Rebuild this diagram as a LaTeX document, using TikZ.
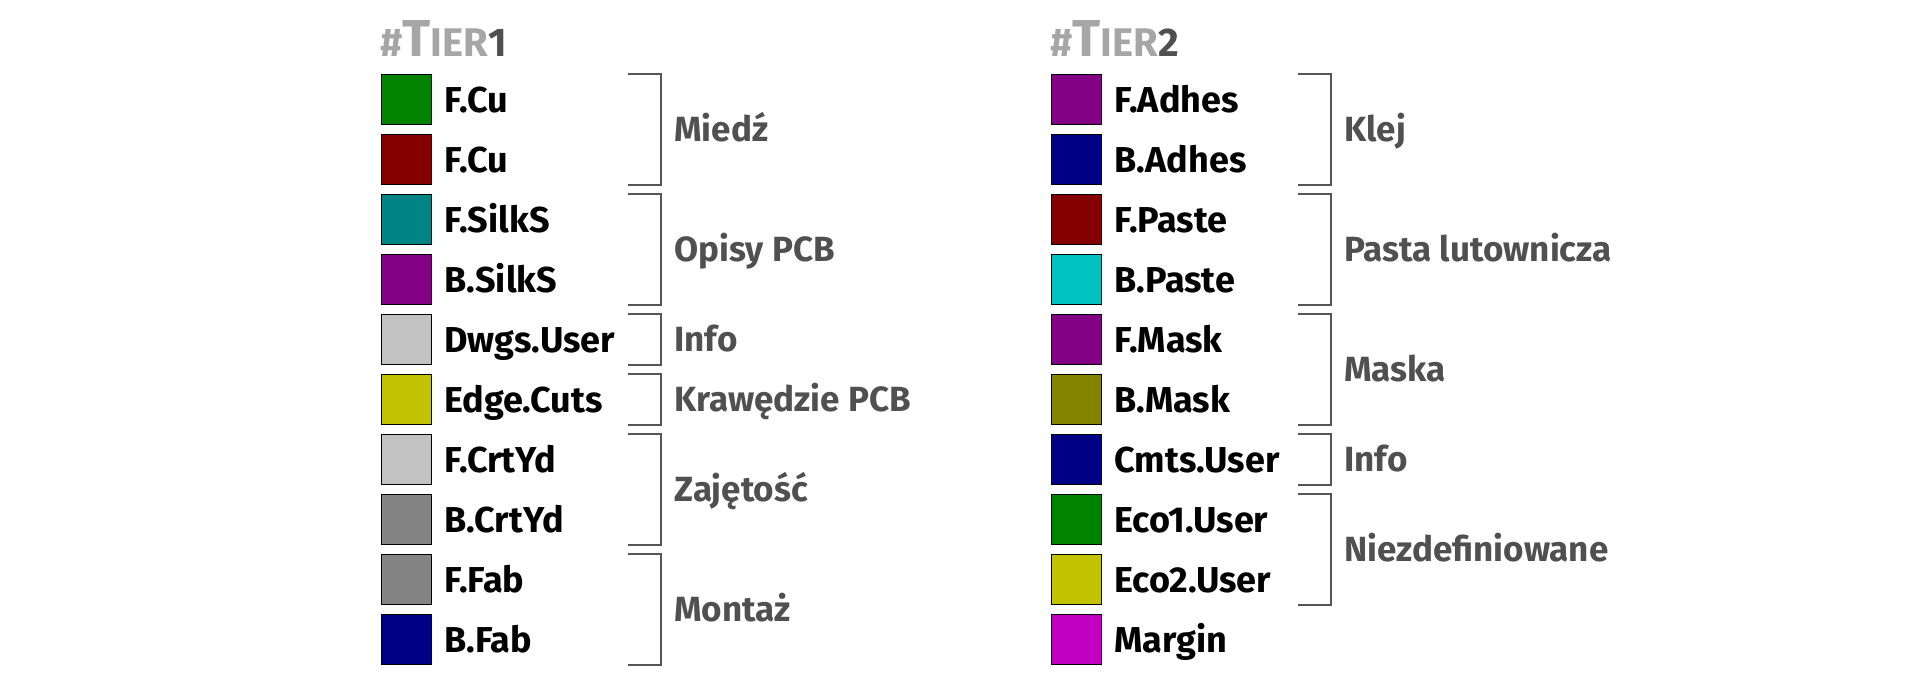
\documentclass[tikz,border=0pt]{standalone}
\usepackage{fontspec}
\setmainfont{Fira Sans}
\usetikzlibrary{calc}
\definecolor{kgreen}{HTML}{008400}
\definecolor{kred}{HTML}{840000}
\definecolor{kteal}{HTML}{008484}
\definecolor{kpurple}{HTML}{840084}
\definecolor{klight}{HTML}{C2C2C2}
\definecolor{kyellow}{HTML}{C2C200}
\definecolor{kgrey}{HTML}{848484}
\definecolor{knavy}{HTML}{000084}
\definecolor{kcyan}{HTML}{00C2C2}
\definecolor{kolive}{HTML}{848400}
\definecolor{kmagenta}{HTML}{C200C2}
\definecolor{labgrey}{HTML}{505050}
\definecolor{brkgrey}{HTML}{555555}
\definecolor{titlegrey}{HTML}{A6A6A6}
\begin{document}
\begin{tikzpicture}[x=1pt, y=-1pt,
  swatch/.style={draw=black, line width=1.2pt, minimum width=50pt, minimum height=50pt, inner sep=0pt, anchor=north west},
  layer/.style={font=\bfseries\fontsize{36}{40}\selectfont, anchor=base west, inner sep=0pt},
  grplabel/.style={font=\bfseries\fontsize{35}{40}\selectfont, text=labgrey, anchor=base west, inner sep=0pt},
  bracket/.style={draw=brkgrey, line width=2pt},
  title/.style={font=\bfseries\fontsize{40}{44}\selectfont, text=titlegrey, anchor=base west, inner sep=0pt}]
\useasboundingbox (0,0) rectangle (1920,680);
% tier 1
\node[title] (t1) at (380,56) {\#{\fontsize{52}{54}\selectfont T}IER\textcolor{labgrey}{1}};
\foreach \c/\t [count=\i from 0] in {kgreen/F.Cu, kred/F.Cu, kteal/F.SilkS, kpurple/B.SilkS, klight/Dwgs.User,
    kyellow/Edge.Cuts, klight/F.CrtYd, kgrey/B.CrtYd, kgrey/F.Fab, knavy/B.Fab}{
  \node[swatch, fill=\c] (a\i) at (381,{74+60*\i}) {};
  \node[layer] (la\i) at ([xshift=12pt,yshift=-12.5pt]a\i.east) {\t};
}
\foreach \f/\l/\t in {0/1/Miedź, 2/3/Opisy PCB, 4/4/Info, 5/5/Krawędzie PCB, 6/7/Zajętość, 8/9/Montaż}{
  \draw[bracket] ([xshift=196pt]a\f.north east) -| ([xshift=229pt]a\l.south east) -- ([xshift=196pt]a\l.south east);
  \node[grplabel] (ga\f) at ($([xshift=242pt]a\f.north east)!0.5!([xshift=242pt]a\l.south east)+(0,12)$) {\t};
}
% tier 2
\node[title] (t2) at (1050,56) {\#{\fontsize{52}{54}\selectfont T}IER\textcolor{labgrey}{2}};
\foreach \c/\t [count=\i from 0] in {kpurple/F.Adhes, knavy/B.Adhes, kred/F.Paste, kcyan/B.Paste, kpurple/F.Mask,
    kolive/B.Mask, knavy/Cmts.User, kgreen/Eco1.User, kyellow/Eco2.User, kmagenta/Margin}{
  \node[swatch, fill=\c] (b\i) at (1051,{74+60*\i}) {};
  \node[layer] (lb\i) at ([xshift=12pt,yshift=-12.5pt]b\i.east) {\t};
}
\foreach \f/\l/\t in {0/1/Klej, 2/3/Pasta lutownicza, 4/5/Maska, 6/6/Info, 7/8/Niezdefiniowane}{
  \draw[bracket] ([xshift=196pt]b\f.north east) -| ([xshift=229pt]b\l.south east) -- ([xshift=196pt]b\l.south east);
  \node[grplabel] (gb\f) at ($([xshift=242pt]b\f.north east)!0.5!([xshift=242pt]b\l.south east)+(0,12)$) {\t};
}
\end{tikzpicture}
\end{document}
